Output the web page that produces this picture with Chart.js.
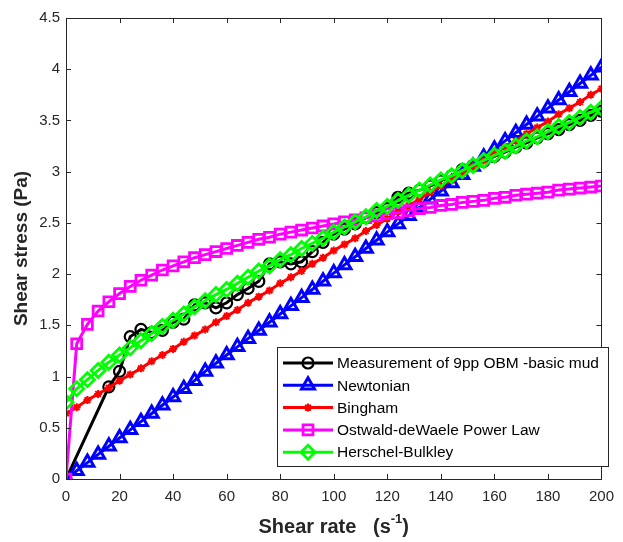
<!DOCTYPE html>
<html>
<head>
<meta charset="utf-8">
<script src="https://cdn.jsdelivr.net/npm/chart.js@4.4.0/dist/chart.umd.min.js"></script>
<style>
  html, body { margin: 0; padding: 0; background: #fff; }
  canvas { display: block; }
</style>
</head>
<body>
<canvas id="chart" width="623" height="542"></canvas>
<script>
// Shear rate grid used by the model curves (s^-1)
const shearRate = [0, 4, 8, 12, 16, 20, 24, 28, 32, 36, 40, 44, 48, 52, 56, 60, 64, 68, 72, 76,
    80, 84, 88, 92, 96, 100, 104, 108, 112, 116, 120, 124, 128, 132, 136, 140, 144, 148, 152, 156,
    160, 164, 168, 172, 176, 180, 184, 188, 192, 196, 200];

// Measured points (own shear rates)
const measRate = [0, 16, 20, 24, 28, 32, 36, 40, 44, 48, 52, 56, 60, 64, 68, 72, 76, 80, 84, 88,
    92, 96, 100, 104, 108, 112, 116, 120, 124, 128, 132, 136, 140, 144, 148, 152, 156, 160, 164, 168,
    172, 176, 180, 184, 188, 192, 196, 200];
const measStress = [0, 0.90, 1.05, 1.39, 1.46, 1.43, 1.45, 1.53, 1.56, 1.70, 1.72, 1.67, 1.72, 1.80, 1.86, 1.93, 2.10, 2.12, 2.10, 2.12,
    2.22, 2.31, 2.39, 2.44, 2.49, 2.55, 2.60, 2.64, 2.75, 2.79, 2.82, 2.86, 2.91, 2.96, 3.02, 3.06, 3.10, 3.15, 3.19, 3.24,
    3.28, 3.33, 3.37, 3.41, 3.46, 3.50, 3.55, 3.59];

// Model curves (Pa)
const newtonian = [0, 0.08, 0.16, 0.24, 0.32, 0.40, 0.48, 0.56, 0.64, 0.72, 0.80, 0.88, 0.96, 1.05, 1.13, 1.21, 1.29, 1.37, 1.45, 1.53,
    1.61, 1.69, 1.77, 1.85, 1.93, 2.01, 2.09, 2.17, 2.25, 2.33, 2.41, 2.49, 2.57, 2.65, 2.73, 2.81, 2.89, 2.97, 3.05, 3.14,
    3.22, 3.30, 3.38, 3.46, 3.54, 3.62, 3.70, 3.78, 3.86, 3.94, 4.02];
const bingham = [0.64, 0.70, 0.77, 0.83, 0.89, 0.96, 1.02, 1.08, 1.15, 1.21, 1.27, 1.34, 1.40, 1.46, 1.53, 1.59, 1.65, 1.72, 1.78, 1.84,
    1.91, 1.97, 2.03, 2.10, 2.16, 2.23, 2.29, 2.35, 2.42, 2.48, 2.54, 2.61, 2.67, 2.73, 2.80, 2.86, 2.92, 2.99, 3.05, 3.11,
    3.18, 3.24, 3.30, 3.37, 3.43, 3.49, 3.56, 3.62, 3.68, 3.75, 3.81];
const powerLaw = [0, 1.32, 1.51, 1.64, 1.73, 1.81, 1.88, 1.94, 1.99, 2.04, 2.08, 2.12, 2.16, 2.19, 2.22, 2.25, 2.28, 2.31, 2.34, 2.36,
    2.39, 2.41, 2.43, 2.45, 2.47, 2.49, 2.51, 2.53, 2.55, 2.57, 2.59, 2.60, 2.62, 2.64, 2.65, 2.67, 2.68, 2.70, 2.71, 2.72,
    2.74, 2.75, 2.77, 2.78, 2.79, 2.80, 2.82, 2.83, 2.84, 2.85, 2.86];
const herschel = [0.75, 0.88, 0.97, 1.06, 1.14, 1.21, 1.28, 1.35, 1.42, 1.49, 1.55, 1.61, 1.68, 1.74, 1.80, 1.85, 1.91, 1.97, 2.03, 2.08,
    2.14, 2.19, 2.25, 2.30, 2.35, 2.41, 2.46, 2.51, 2.56, 2.62, 2.66, 2.72, 2.77, 2.82, 2.87, 2.92, 2.96, 3.01, 3.06, 3.11,
    3.16, 3.20, 3.25, 3.30, 3.34, 3.39, 3.44, 3.48, 3.53, 3.58, 3.62];

const seriesLabels = ['Measurement of 9pp OBM -basic mud', 'Newtonian', 'Bingham', 'Ostwald-deWaele Power Law', 'Herschel-Bulkley'];

const xTicks = [0, 20, 40, 60, 80, 100, 120, 140, 160, 180, 200];
const yTicks = [0, 0.5, 1, 1.5, 2, 2.5, 3, 3.5, 4, 4.5];

const FONT = '"Liberation Sans", Arial, Helvetica, sans-serif';
const AXIS_COLOR = '#262626';

function toPoints(xs, ys) {
    return xs.map((x, i) => ({ x: x, y: ys[i] }));
}

// Marker styles per series (same order as seriesLabels)
const STYLES = [
    { color: '#000000', pointStyle: 'circle', radius: 5.5, width: 2.2 },
    { color: '#0000ff', pointStyle: 'triangle', radius: 7.5, width: 3 },
    { color: '#ff0000', pointStyle: 'star', radius: 4, width: 2 },
    { color: '#ff00ff', pointStyle: 'rect', radius: 7, width: 2.8 },
    { color: '#00ff00', pointStyle: 'rectRot', radius: 7, width: 2.8 },
];

const seriesData = [
    toPoints(measRate, measStress),
    toPoints(shearRate, newtonian),
    toPoints(shearRate, bingham),
    toPoints(shearRate, powerLaw),
    toPoints(shearRate, herschel),
];

// Draw order: later series sit on top (like MATLAB hold on)
const datasets = seriesData.map((pts, i) => ({
    label: seriesLabels[i],
    data: pts,
    borderColor: STYLES[i].color,
    backgroundColor: 'rgba(0,0,0,0)',
    borderWidth: 3,
    pointStyle: STYLES[i].pointStyle,
    pointRadius: STYLES[i].radius,
    pointBorderWidth: STYLES[i].width,
    pointBorderColor: STYLES[i].color,
    pointBackgroundColor: 'rgba(0,0,0,0)',
    tension: 0,
    order: seriesData.length - i,
}));

// Frame, inward ticks, axis titles and legend box
const framePlugin = {
    id: 'matlabFrame',
    afterDatasetsDraw(chart) {
        const { ctx, chartArea: a, scales } = chart;
        const sx = scales.x, sy = scales.y;
        ctx.save();
        ctx.strokeStyle = AXIS_COLOR;
        ctx.lineWidth = 1;
        ctx.strokeRect(Math.round(a.left) + 0.5, Math.round(a.top) + 0.5,
            Math.round(a.right - a.left), Math.round(a.bottom - a.top));
        const tl = 5;
        ctx.beginPath();
        xTicks.forEach(v => {
            const px = Math.round(sx.getPixelForValue(v)) + 0.5;
            ctx.moveTo(px, a.bottom); ctx.lineTo(px, a.bottom - tl);
            ctx.moveTo(px, a.top); ctx.lineTo(px, a.top + tl);
        });
        yTicks.forEach(v => {
            const py = Math.round(sy.getPixelForValue(v)) + 0.5;
            ctx.moveTo(a.left, py); ctx.lineTo(a.left + tl, py);
            ctx.moveTo(a.right, py); ctx.lineTo(a.right - tl, py);
        });
        ctx.stroke();

        // y title
        ctx.fillStyle = AXIS_COLOR;
        ctx.font = 'bold 19px ' + FONT;
        ctx.textAlign = 'center';
        ctx.textBaseline = 'middle';
        ctx.save();
        ctx.translate(22, (a.top + a.bottom) / 2);
        ctx.rotate(-Math.PI / 2);
        ctx.fillText('Shear stress (Pa)', 0, 0);
        ctx.restore();

        // x title with superscript
        const main = 'Shear rate   (s';
        const sup = '-1';
        const tail = ')';
        ctx.textAlign = 'left';
        ctx.textBaseline = 'alphabetic';
        ctx.font = 'bold 20px ' + FONT;
        const w1 = ctx.measureText(main).width;
        const w3 = ctx.measureText(tail).width;
        ctx.font = 'bold 13px ' + FONT;
        const w2 = ctx.measureText(sup).width;
        const total = w1 + w2 + w3;
        let x0 = (a.left + a.right) / 2 - total / 2;
        const base = 533;
        ctx.font = 'bold 20px ' + FONT;
        ctx.fillText(main, x0, base);
        ctx.font = 'bold 13px ' + FONT;
        ctx.fillText(sup, x0 + w1, base - 10);
        ctx.font = 'bold 20px ' + FONT;
        ctx.fillText(tail, x0 + w1 + w2, base);

        // legend
        const lx = 277, ly = 347, lw = 331, lh = 119;
        ctx.fillStyle = '#ffffff';
        ctx.fillRect(lx, ly, lw, lh);
        ctx.strokeStyle = AXIS_COLOR;
        ctx.lineWidth = 1;
        ctx.strokeRect(lx + 0.5, ly + 0.5, lw, lh);
        ctx.font = '15.5px ' + FONT;
        ctx.textBaseline = 'middle';
        seriesLabels.forEach((lab, i) => {
            const yy = ly + 16 + i * 22.3;
            const st = STYLES[i];
            ctx.strokeStyle = st.color;
            ctx.lineWidth = 3;
            ctx.beginPath();
            ctx.moveTo(lx + 6, yy); ctx.lineTo(lx + 56, yy);
            ctx.stroke();
            ctx.fillStyle = 'rgba(0,0,0,0)';
            ctx.lineWidth = st.width;
            Chart.helpers.drawPoint(ctx, {
                pointStyle: st.pointStyle, radius: st.radius, rotation: 0,
                borderWidth: st.width
            }, lx + 31, yy);
            ctx.fillStyle = '#000000';
            ctx.fillText(lab, lx + 60, yy + 1);
        });
        ctx.restore();
    }
};

new Chart(document.getElementById('chart'), {
    type: 'line',
    data: { datasets: datasets },
    options: {
        responsive: false,
        animation: false,
        layout: { padding: { left: 0, right: 14, top: 18, bottom: 0 } },
        plugins: {
            legend: { display: false },
            tooltip: { enabled: false },
        },
        scales: {
            x: {
                type: 'linear',
                min: 0,
                max: 200,
                afterBuildTicks: (s) => { s.ticks = xTicks.map(v => ({ value: v })); },
                afterFit: (s) => { s.height = 63; },
                grid: { display: false, drawTicks: false },
                border: { display: false },
                ticks: {
                    color: AXIS_COLOR,
                    padding: 9,
                    maxRotation: 0,
                    font: { family: FONT, size: 15 },
                    callback: (v) => String(v),
                },
            },
            y: {
                type: 'linear',
                min: 0,
                max: 4.5,
                afterBuildTicks: (s) => { s.ticks = yTicks.map(v => ({ value: v })); },
                afterFit: (s) => { s.width = 66; },
                grid: { display: false, drawTicks: false },
                border: { display: false },
                ticks: {
                    color: AXIS_COLOR,
                    padding: 6,
                    font: { family: FONT, size: 15 },
                    callback: (v) => String(v),
                },
            },
        },
    },
    plugins: [framePlugin],
});
</script>
</body>
</html>
